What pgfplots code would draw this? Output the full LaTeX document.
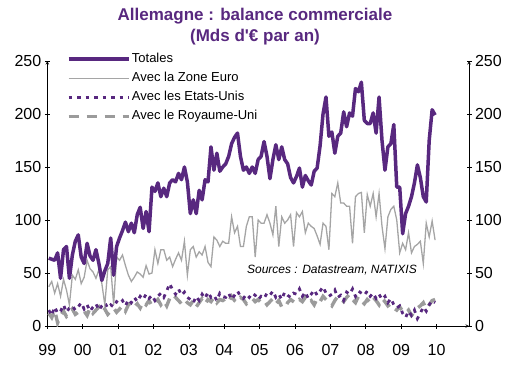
\documentclass[border=0pt]{standalone}
\usepackage{fontspec}
\setmainfont{Liberation Sans}
\usepackage{pgfplots}
\usepackage{pgfplotstable}
\pgfplotsset{compat=1.18}
\definecolor{violetN}{RGB}{88,40,127}
\definecolor{grisA}{RGB}{165,165,165}
\definecolor{grisB}{RGB}{155,155,155}

\pgfplotstableread{
m tot ze us uk
0 64 37 15 12
1 63 42 10 8
2 62 31 18 15
3 69 40 12 3
4 45 28 14 10
5 72 44 20 14
6 75 34 13 9
7 45 20 17 12
8 67 48 19 16
9 80 44 15 11
10 86 53 18 13
11 65 40 22 15
12 59 46 16 14
13 78 62 20 10
14 66 54 14 17
15 62 51 18 12
16 72 45 21 15
17 59 53 15 18
18 43 40 19 13
19 52 20 22 16
20 59 53 17 11
21 83 56 20 14
22 48 20 18 17
23 75 65 23 13
24 83 62 21 16
25 90 67 24 19
26 98 57 19 14
27 89 48 25 20
28 97 42 22 22
29 88 46 27 18
30 105 51 23 21
31 112 49 28 17
32 92 46 25 23
33 108 57 30 20
34 89 49 26 24
35 131 50 29 19
36 127 72 24 22
37 135 59 28 25
38 122 72 31 20
39 130 72 27 24
40 122 62 33 19
41 135 65 40 26
42 138 56 34 23
43 136 63 30 27
44 144 69 35 24
45 138 62 29 21
46 150 80 32 25
47 136 48 27 22
48 106 72 25 20
49 119 75 22 24
50 106 65 28 18
51 128 70 24 22
52 119 67 30 26
53 138 75 26 21
54 136 60 32 25
55 169 56 27 23
56 147 84 29 27
57 163 81 24 22
58 146 75 31 25
59 150 80 28 24
60 153 78 27 26
61 160 78 31 23
62 172 103 25 28
63 178 88 29 24
64 182 94 33 22
65 160 75 28 27
66 147 75 26 25
67 150 94 30 21
68 144 103 27 24
69 150 103 31 26
70 144 65 29 23
71 157 100 25 25
72 160 97 28 22
73 174 97 26 24
74 160 105 31 20
75 139 97 29 23
76 157 86 33 26
77 171 113 27 21
78 157 75 30 24
79 169 103 25 18
80 157 97 32 17
81 153 100 29 22
82 140 105 27 25
83 135 75 31 23
84 141 107 30 21
85 149 103 35 25
86 131 108 28 23
87 142 88 32 27
88 137 97 26 22
89 133 94 30 24
90 146 92 34 20
91 149 85 29 26
92 170 77 33 23
93 200 97 37 28
94 216 94 31 25
95 179 72 28 22
96 183 125 30 19
97 163 122 34 24
98 179 135 27 28
99 182 116 29 26
100 202 116 24 23
101 188 113 32 27
102 201 113 30 30
103 198 78 35 25
104 224 122 28 22
105 221 125 33 28
106 230 126 31 24
107 194 88 29 21
108 191 124 33 25
109 191 113 28 22
110 201 125 31 27
111 182 103 26 24
112 216 125 30 20
113 175 94 25 26
114 147 73 28 23
115 169 103 22 19
116 172 110 26 21
117 190 113 20 17
118 131 100 17 15
119 131 69 19 18
120 87 78 12 14
121 106 72 8 12
122 113 88 14 15
123 122 69 10 10
124 135 75 15 13
125 152 77 7 17
126 140 80 12 19
127 122 59 18 22
128 117 97 14 16
129 175 84 20 20
130 204 99 24 24
131 199 81 22 25
}\data

\begin{document}
\begin{tikzpicture}
\useasboundingbox (-47.3pt,-39pt) rectangle (473.7pt,326pt);
\pgfplotsset{
  common/.style={
    at={(0pt,0pt)}, anchor=south west,
    scale only axis, width=421.7pt, height=265pt,
    xmin=-0.5, xmax=142.5, ymin=0, ymax=250,
    ytick={0,50,100,150,200,250},
    tick align=outside,
    major tick length=5pt,
    tick style={black, line width=0.6pt},
    axis line style={-, black, line width=0.6pt},
    ticklabel style={font=\fontsize{16}{16}\selectfont},
    /pgf/number format/assume math mode=true,
  }
}
\begin{axis}[common,
  axis x line=bottom, axis y line=left,
  xtick={-0.5,11.5,23.5,35.5,47.5,59.5,71.5,83.5,95.5,107.5,119.5,131.5},
  xticklabels={99,00,01,02,03,04,05,06,07,08,09,10},
  xticklabel style={yshift=-12pt},
  reverse legend,
  legend style={draw=none, fill=none, at={(0.046,1)}, anchor=north west,
    yshift=9.5pt, inner sep=0pt,
    font=\fontsize{13}{13}\selectfont,
    nodes={inner sep=1.5pt, text height=9.5pt, text depth=2.5pt},
    row sep=4pt},
  legend cell align=left,
  legend image code/.code={\draw[#1] (0pt,0pt) -- (60pt,0pt);},
]
\addplot[grisB, line width=3.4pt, dash pattern=on 10pt off 8pt] table[x=m,y=uk] {\data};
\addlegendentry{Avec le Royaume-Uni}
\addplot[violetN, line width=2.8pt, dash pattern=on 3.5pt off 5pt] table[x=m,y=us] {\data};
\addlegendentry{Avec les Etats-Unis}
\addplot[grisA, line width=1.3pt] table[x=m,y=ze] {\data};
\addlegendentry{Avec la Zone Euro}
\addplot[violetN, line width=3.5pt, line join=round] table[x=m,y=tot] {\data};
\addlegendentry{Totales}
\node[anchor=west, font=\fontsize{12}{12}\selectfont\itshape, inner sep=0pt] at (axis cs:67.2,53) {Sources : Datastream, NATIXIS};
\end{axis}
\begin{axis}[common,
  axis x line=none, axis y line=right,
]
\end{axis}
\node[font=\fontsize{17}{17}\selectfont\bfseries, text=violetN] at (207.7pt,309.5pt) {Allemagne : balance commerciale};
\node[font=\fontsize{17}{17}\selectfont\bfseries, text=violetN] at (207.7pt,288.5pt) {(Mds d\textquotesingle€ par an)};
\end{tikzpicture}
\end{document}
